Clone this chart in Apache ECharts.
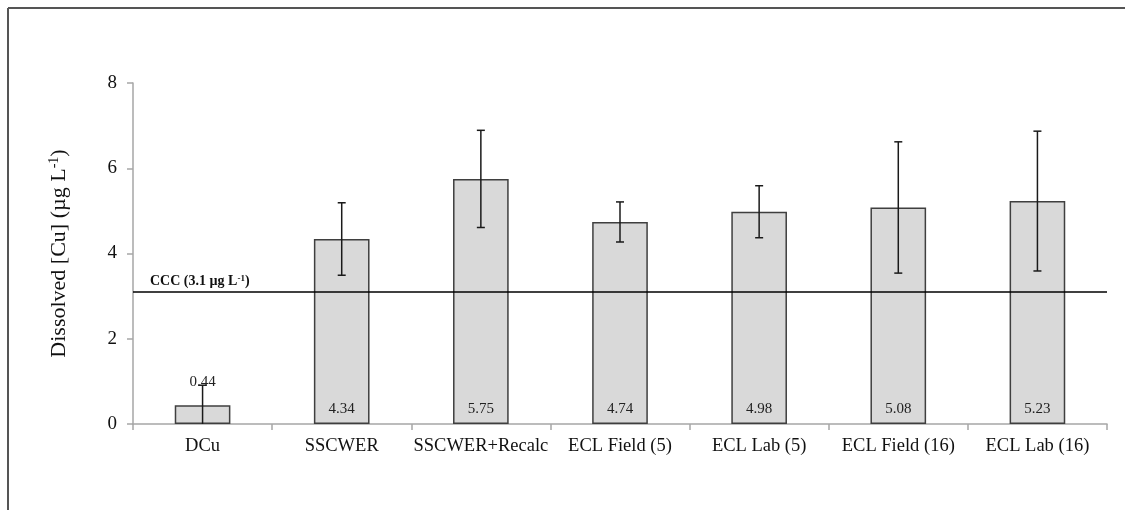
<!DOCTYPE html>
<html>
<head>
<meta charset="utf-8">
<title>Dissolved Cu</title>
<script src="https://cdn.jsdelivr.net/npm/echarts@6/dist/echarts.min.js"></script>
<style>
  html, body { margin: 0; padding: 0; background: #ffffff; }
  #chart { width: 1125px; height: 510px; }
</style>
</head>
<body>
<div id="chart"></div>
<script>
// Dissolved copper by method, with standard deviations and the CCC criterion
const categories = ['DCu', 'SSCWER', 'SSCWER+Recalc', 'ECL Field (5)', 'ECL Lab (5)', 'ECL Field (16)', 'ECL Lab (16)'];
const values = [0.44, 4.34, 5.75, 4.74, 4.98, 5.08, 5.23];
const errors = [0.47, 0.85, 1.14, 0.47, 0.61, 1.54, 1.64];
const cccValue = 3.1;
const yTicks = [0, 2, 4, 6, 8];

const serif = '"Liberation Serif", "DejaVu Serif", serif';

const errorData = values.map((v, i) => [i, Math.max(0, v - errors[i]), v + errors[i]]);

const chart = echarts.init(document.getElementById('chart'), null, { renderer: 'canvas' });

chart.setOption({
  backgroundColor: '#ffffff',
  animation: false,
  grid: { left: 133, right: 18, top: 83, bottom: 86, containLabel: false },
  graphic: [
    { type: 'line', shape: { x1: 8, y1: 8, x2: 1125, y2: 8 }, style: { stroke: '#555555', lineWidth: 2 } },
    { type: 'line', shape: { x1: 8, y1: 8, x2: 8, y2: 510 }, style: { stroke: '#555555', lineWidth: 2 } }
  ],
  xAxis: {
    type: 'category',
    data: categories,
    axisLine: { show: true, lineStyle: { color: '#a6a6a6', width: 1.5 } },
    axisTick: { show: true, alignWithLabel: false, interval: 0, length: 6, lineStyle: { color: '#a6a6a6', width: 1.5 } },
    axisLabel: { interval: 0, margin: 13, color: '#111111', fontFamily: serif, fontSize: 18.5 },
    splitLine: { show: false }
  },
  yAxis: {
    type: 'value',
    min: yTicks[0],
    max: yTicks[yTicks.length - 1],
    interval: 2,
    name: '{n|Dissolved [Cu] (µg L}{s|-1}{n|)}',
    nameLocation: 'middle',
    nameRotate: 90,
    nameGap: 62,
    nameTextStyle: {
      rich: {
        n: { fontFamily: serif, fontSize: 22, color: '#111111' },
        s: { fontFamily: serif, fontSize: 14, color: '#111111', padding: [0, 0, 10, 0] }
      }
    },
    axisLine: { show: true, lineStyle: { color: '#a6a6a6', width: 1.5 } },
    axisTick: { show: true, inside: false, length: 6, lineStyle: { color: '#a6a6a6', width: 1.5 } },
    axisLabel: { margin: 16, color: '#111111', fontFamily: serif, fontSize: 19 },
    splitLine: { show: false }
  },
  series: [
    {
      type: 'bar',
      data: values.map((v, i) => ({
        value: v,
        label: i === 0
          ? { show: true, position: 'top', distance: 16 }
          : { show: true, position: 'insideBottom', distance: 7 }
      })),
      barWidth: '40%',
      itemStyle: { color: '#d9d9d9', borderColor: '#3f3f3f', borderWidth: 1.5 },
      label: {
        show: true,
        color: '#222222',
        fontFamily: serif,
        fontSize: 15,
        formatter: p => p.value.toFixed(2)
      },
      z: 2,
      markLine: {
        silent: true,
        symbol: 'none',
        animation: false,
        lineStyle: { color: '#000000', width: 1.5, type: 'solid' },
        label: {
          show: true,
          position: 'insideStartTop',
          distance: [17, 3],
          formatter: '{b|CCC (3.1 µg L}{s|-1}{b|)}',
          rich: {
            b: { fontFamily: serif, fontSize: 14, fontWeight: 'bold', color: '#111111' },
            s: { fontFamily: serif, fontSize: 9, fontWeight: 'bold', color: '#111111', padding: [0, 0, 6, 0] }
          }
        },
        data: [{ yAxis: cccValue }]
      }
    },
    {
      type: 'custom',
      data: errorData,
      z: 5,
      silent: true,
      renderItem: function (params, api) {
        const idx = api.value(0);
        const lo = api.value(1);
        const hi = api.value(2);
        const top = api.coord([idx, hi]);
        const bot = api.coord([idx, lo]);
        const cap = 4;
        const style = { stroke: '#1a1a1a', lineWidth: 1.5 };
        const children = [
          { type: 'line', shape: { x1: top[0], y1: top[1], x2: bot[0], y2: bot[1] }, style: style },
          { type: 'line', shape: { x1: top[0] - cap, y1: top[1], x2: top[0] + cap, y2: top[1] }, style: style }
        ];
        if (lo > 0) {
          children.push({ type: 'line', shape: { x1: bot[0] - cap, y1: bot[1], x2: bot[0] + cap, y2: bot[1] }, style: style });
        }
        return { type: 'group', children: children };
      }
    }
  ]
});
</script>
</body>
</html>
